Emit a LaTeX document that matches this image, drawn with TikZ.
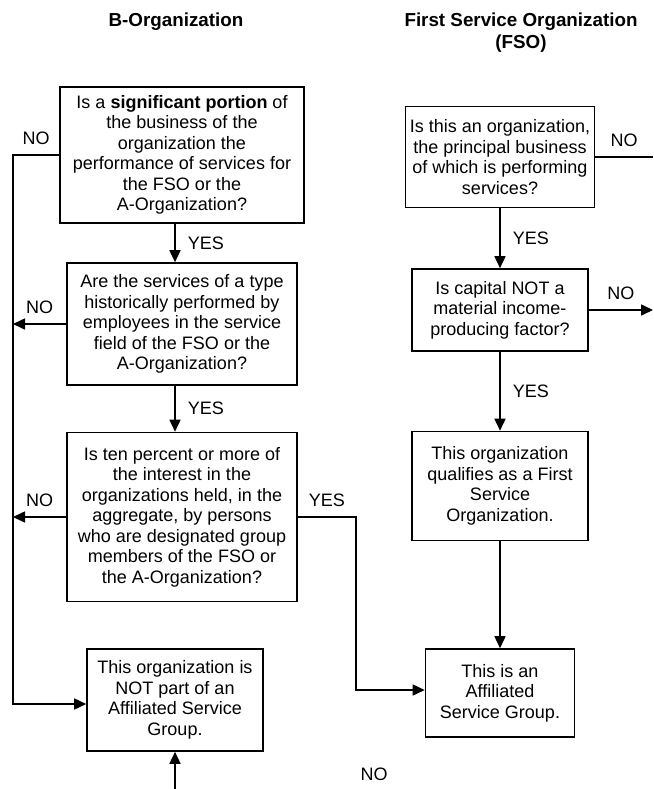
\documentclass[tikz,border=0pt]{standalone}
\usepackage{fontspec}
\setmainfont{Liberation Sans}
\usetikzlibrary{arrows.meta}
\begin{document}
\begin{tikzpicture}[x=1pt,y=-1pt,
		every node/.style={font=\fontsize{18}{20.5}\selectfont},
		title/.style={font=\fontsize{18.8}{22}\selectfont\bfseries,align=center},
		box/.style={draw,line width=1.6pt,align=center,inner sep=0pt},
		line/.style={line width=1.6pt},
		flow/.style={line,-{Triangle[length=12pt,width=11pt]}},
		lbl/.style={inner sep=2pt}]
	\useasboundingbox (0,0) rectangle (653,789);
	\node[title] (hb) at (176,22) {B-Organization};
	\node[title] (hf) at (521,33) {First Service Organization\\(FSO)};
	\coordinate (lft) at (13,0);
	\coordinate (rgt) at (653,0);
	\coordinate (mid) at (356,0);
	\coordinate (bot) at (175,789);
	\node[box,minimum width=244pt,minimum height=136pt] (bq1) at (182,155)
		{Is a \textbf{significant portion} of\\the business of the\\organization the\\performance of services for\\the FSO or the\\A-Organization?};
	\node[box,minimum width=230pt,minimum height=122pt] (bq2) at (182,324)
		{Are the services of a type\\historically performed by\\employees in the service\\field of the FSO or the\\A-Organization?};
	\node[box,minimum width=230pt,minimum height=169pt] (bq3) at (182,517)
		{Is ten percent or more of\\the interest in the\\organizations held, in the\\aggregate, by persons\\who are designated group\\members of the FSO or\\the A-Organization?};
	\node[box,minimum width=176pt,minimum height=102pt] (bnot) at (175,700)
		{This organization is\\NOT part of an\\Affiliated Service\\Group.};
	\node[box,minimum width=189pt,minimum height=101pt] (fq1) at (500,157)
		{Is this an organization,\\the principal business\\of which is performing\\services?};
	\node[box,minimum width=176pt,minimum height=82pt] (fq2) at (500,310)
		{Is capital NOT a\\material income-\\producing factor?};
	\node[box,minimum width=176pt,minimum height=109pt] (fyes) at (500,486)
		{This organization\\qualifies as a First\\Service\\Organization.};
	\node[box,minimum width=149pt,minimum height=88pt] (asg) at (500,693)
		{This is an\\Affiliated\\Service Group.};
	\node (nobot) at (374,774) {NO};
	\draw[flow] (bq1.west) -- node[lbl,above=8pt]{NO} (bq1.west -| lft) |- ([yshift=-4pt]bnot.west);
	\path[flow]
		(bq1.south -| bnot) edge node[lbl,right=10pt]{YES} (bq2.north -| bnot)
		(bq2.south -| bnot) edge node[lbl,right=10pt]{YES} (bq3.north -| bnot)
		(bq2.west) edge node[lbl,above=8pt]{NO} (bq2.west -| lft)
		(bq3.west) edge node[lbl,above=8pt]{NO} (bq3.west -| lft)
		(bot) edge (bnot.south)
		(fq1) edge node[lbl,right=10pt]{YES} (fq2)
		(fq2) edge node[lbl,right=10pt]{YES} (fyes)
		(fyes) edge (asg)
		(fq2.east) edge node[lbl,above=8pt]{NO} (fq2.east -| rgt);
	\draw[line] (fq1.east) -- node[lbl,above=8pt]{NO} (fq1.east -| rgt);
	\draw[flow] (bq3.east) -- node[lbl,above=8pt]{YES} (bq3.east -| mid) |- ([yshift=3pt]asg.west);
\end{tikzpicture}
\end{document}
